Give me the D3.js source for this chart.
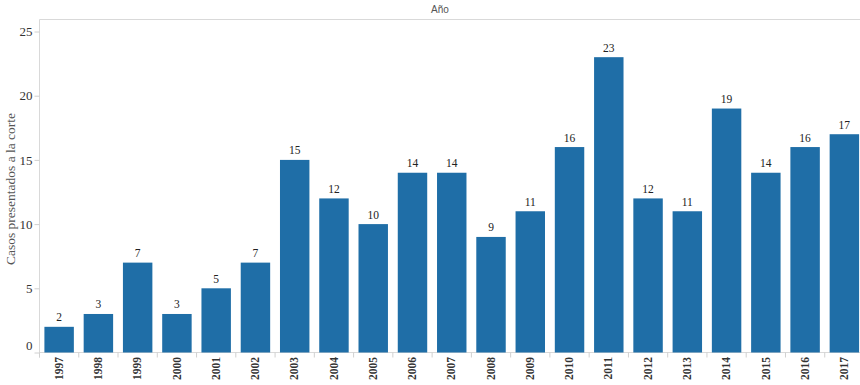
<!DOCTYPE html>
<html><head><meta charset="utf-8">
<script src="https://cdn.jsdelivr.net/npm/d3@7"></script>
<style>body{margin:0;background:#fff;}svg{display:block;}</style>
</head><body>
<svg id="c" width="860" height="385"></svg>
<script>
const years = ["1997","1998","1999","2000","2001","2002","2003","2004","2005","2006","2007","2008","2009","2010","2011","2012","2013","2014","2015","2016","2017"];
const cases = [2,3,7,3,5,7,15,12,10,14,14,9,11,16,23,12,11,19,14,16,17];
const yTicks = [0,5,10,15,20,25];
const headerTitle = "Año";
const yTitle = "Casos presentados a la corte";

(function () {
const svg = d3.select("#c");
const mLeft = 39.5, mRight = 864, mTop = 19.5, base = 352.5;
const x = d3.scaleBand().domain(years).range([mLeft, mRight]).paddingInner(0.25).paddingOuter(0.125);
const y = d3.scaleLinear().domain([0, 25]).range([base, base - 25 * 12.84]);
const serif = "'Liberation Serif','DejaVu Serif',serif";

// header
svg.append("text").attr("x", 440).attr("y", 12.5).attr("text-anchor", "middle")
  .attr("font-family", "'Liberation Sans',Arial,sans-serif").attr("font-size", 10).attr("fill", "#555").text(headerTitle);
svg.append("line").attr("x1", mLeft).attr("x2", 860).attr("y1", mTop).attr("y2", mTop).attr("stroke", "#d9d9d9");

// axes lines
svg.append("line").attr("x1", mLeft).attr("x2", mLeft).attr("y1", mTop).attr("y2", base + 5).attr("stroke", "#d9d9d9");
svg.append("line").attr("x1", mLeft).attr("x2", 860).attr("y1", base).attr("y2", base).attr("stroke", "#d9d9d9");

// y axis
const yAxis = svg.append("g").attr("transform", `translate(${mLeft},0)`)
  .call(d3.axisLeft(y).tickValues(yTicks).tickSize(5).tickPadding(2));
yAxis.select(".domain").remove();
yAxis.selectAll(".tick line").attr("stroke", "#d0d0d0");
yAxis.selectAll(".tick text").attr("font-family", serif).attr("font-size", 13).attr("fill", "#333")
  .attr("dy", d => d === 0 ? "-0.2em" : "0.32em");

// y title
svg.append("text").attr("transform", "translate(15,189) rotate(-90)").attr("text-anchor", "middle")
  .attr("font-family", serif).attr("font-size", 13.5).attr("fill", "#555").text(yTitle);

// x axis cell boundary ticks
const step = x.step();
const bounds = years.map(d => x(d) - x.paddingInner() * step / 2);
svg.append("g").selectAll("line").data(bounds).join("line")
  .attr("x1", d => d).attr("x2", d => d).attr("y1", base).attr("y2", base + 5).attr("stroke", "#d0d0d0");

// bars
svg.append("g").selectAll("rect").data(years).join("rect")
  .attr("x", d => x(d)).attr("width", x.bandwidth())
  .attr("y", (d, i) => y(cases[i])).attr("height", (d, i) => base - y(cases[i]))
  .attr("fill", "#1f6ea7");

// value labels
svg.append("g").selectAll("text").data(years).join("text")
  .attr("x", d => x(d) + x.bandwidth() / 2).attr("y", (d, i) => y(cases[i]) - 5.5)
  .attr("text-anchor", "middle").attr("font-family", serif).attr("font-size", 11.5).attr("fill", "#222")
  .text((d, i) => cases[i]);

// year labels
svg.append("g").selectAll("text").data(years).join("text")
  .attr("transform", d => `translate(${x(d) + x.bandwidth() / 2 + 3.7},${base + 4.5}) rotate(-90)`)
  .attr("text-anchor", "end").attr("font-family", serif).attr("font-size", 11.5).attr("font-weight", "bold").attr("fill", "#333")
  .text(d => d);
})();
</script>
</body></html>
